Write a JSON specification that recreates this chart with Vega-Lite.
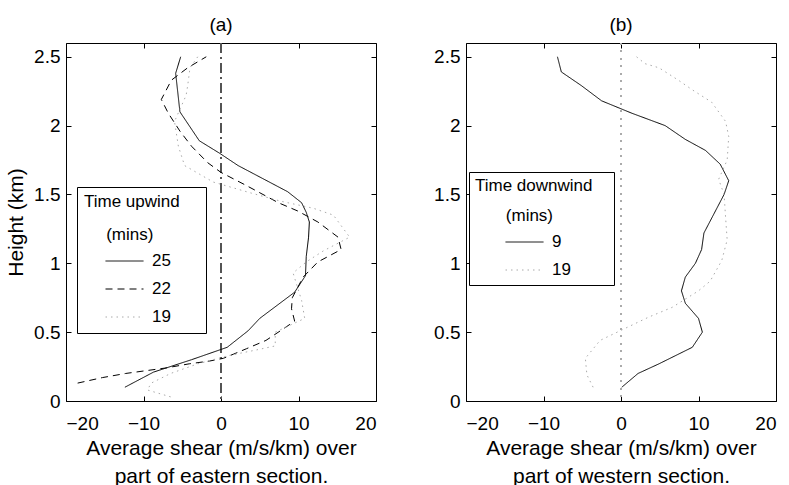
{
  "$schema": "https://vega.github.io/schema/vega-lite/v6.json",
  "background": "white",
  "padding": {"left": 5, "top": 15, "right": 5, "bottom": 5},
  "spacing": 90,
  "bounds": "flush",
  "resolve": {"scale": {"color": "independent", "strokeDash": "independent"}, "legend": {"color": "independent", "strokeDash": "independent"}},
  "config": {
    "font": "Liberation Sans",
    "view": {"stroke": "black", "strokeWidth": 1},
    "axis": {"grid": false, "domain": false, "labelFont": "Liberation Sans", "labelFontSize": 19, "labelColor": "black", "titleFont": "Liberation Sans", "titleFontSize": 21, "titleFontWeight": "normal", "titleColor": "black", "tickColor": "black", "tickSize": -5, "tickWidth": 1},
    "title": {"font": "Liberation Sans", "fontSize": 19, "fontWeight": "normal", "color": "black", "offset": 8},
    "legend": {"titleFont": "Liberation Sans", "labelFont": "Liberation Sans", "titleFontSize": 17, "labelFontSize": 17, "titleFontWeight": "normal", "titleColor": "black", "labelColor": "black", "strokeColor": "black", "fillColor": "white", "padding": 7, "symbolType": "stroke", "symbolSize": 1444, "symbolStrokeWidth": 1, "clipHeight": 18, "rowPadding": 10, "titlePadding": 8, "labelOffset": 8, "titleLimit": 300}
  },
  "datasets": {
    "a": [
      {"t": "25", "h": 0.10, "s": -12.4}, {"t": "25", "h": 0.21, "s": -8.7}, {"t": "25", "h": 0.30, "s": -3.8}, {"t": "25", "h": 0.39, "s": 0.8}, {"t": "25", "h": 0.51, "s": 3.5}, {"t": "25", "h": 0.60, "s": 5.0}, {"t": "25", "h": 0.79, "s": 9.5}, {"t": "25", "h": 0.91, "s": 10.9}, {"t": "25", "h": 1.05, "s": 11.0}, {"t": "25", "h": 1.19, "s": 11.3}, {"t": "25", "h": 1.30, "s": 11.4}, {"t": "25", "h": 1.37, "s": 11.0}, {"t": "25", "h": 1.44, "s": 10.4}, {"t": "25", "h": 1.52, "s": 8.6}, {"t": "25", "h": 1.71, "s": 2.2}, {"t": "25", "h": 1.80, "s": -0.2}, {"t": "25", "h": 1.89, "s": -2.8}, {"t": "25", "h": 2.10, "s": -5.3}, {"t": "25", "h": 2.38, "s": -5.85}, {"t": "25", "h": 2.50, "s": -5.2},
      {"t": "22", "h": 0.13, "s": -18.5}, {"t": "22", "h": 0.17, "s": -15.3}, {"t": "22", "h": 0.20, "s": -12.3}, {"t": "22", "h": 0.22, "s": -9.7}, {"t": "22", "h": 0.24, "s": -7.1}, {"t": "22", "h": 0.27, "s": -4.1}, {"t": "22", "h": 0.29, "s": -1.5}, {"t": "22", "h": 0.31, "s": 0.3}, {"t": "22", "h": 0.34, "s": 1.6}, {"t": "22", "h": 0.38, "s": 3.3}, {"t": "22", "h": 0.44, "s": 5.8}, {"t": "22", "h": 0.53, "s": 8.2}, {"t": "22", "h": 0.58, "s": 9.5}, {"t": "22", "h": 0.67, "s": 9.1}, {"t": "22", "h": 0.75, "s": 9.2}, {"t": "22", "h": 0.90, "s": 10.6}, {"t": "22", "h": 1.01, "s": 12.5}, {"t": "22", "h": 1.10, "s": 15.5}, {"t": "22", "h": 1.19, "s": 15.1}, {"t": "22", "h": 1.30, "s": 12.5}, {"t": "22", "h": 1.38, "s": 9.9}, {"t": "22", "h": 1.44, "s": 7.4}, {"t": "22", "h": 1.57, "s": 3.1}, {"t": "22", "h": 1.66, "s": 0.0}, {"t": "22", "h": 1.73, "s": -1.7}, {"t": "22", "h": 1.85, "s": -3.8}, {"t": "22", "h": 1.96, "s": -5.3}, {"t": "22", "h": 2.09, "s": -6.8}, {"t": "22", "h": 2.19, "s": -7.7}, {"t": "22", "h": 2.33, "s": -6.4}, {"t": "22", "h": 2.42, "s": -4.3}, {"t": "22", "h": 2.50, "s": -1.9},
      {"t": "19", "h": 0.03, "s": -6.5}, {"t": "19", "h": 0.08, "s": -9.5}, {"t": "19", "h": 0.13, "s": -9.0}, {"t": "19", "h": 0.20, "s": -6.5}, {"t": "19", "h": 0.27, "s": -3.0}, {"t": "19", "h": 0.33, "s": 1.0}, {"t": "19", "h": 0.37, "s": 4.5}, {"t": "19", "h": 0.40, "s": 7.0}, {"t": "19", "h": 0.50, "s": 7.0}, {"t": "19", "h": 0.60, "s": 10.8}, {"t": "19", "h": 0.73, "s": 10.4}, {"t": "19", "h": 0.93, "s": 9.3}, {"t": "19", "h": 1.01, "s": 11.0}, {"t": "19", "h": 1.09, "s": 13.2}, {"t": "19", "h": 1.19, "s": 16.6}, {"t": "19", "h": 1.35, "s": 14.5}, {"t": "19", "h": 1.40, "s": 11.9}, {"t": "19", "h": 1.45, "s": 7.8}, {"t": "19", "h": 1.51, "s": 3.9}, {"t": "19", "h": 1.59, "s": -1.0}, {"t": "19", "h": 1.71, "s": -4.7}, {"t": "19", "h": 1.85, "s": -5.5}, {"t": "19", "h": 2.03, "s": -6.0}, {"t": "19", "h": 2.22, "s": -4.5}, {"t": "19", "h": 2.29, "s": -4.3}, {"t": "19", "h": 2.42, "s": -4.0}, {"t": "19", "h": 2.50, "s": -3.0}
    ],
    "b": [
      {"t": "9", "h": 0.10, "s": 0.1}, {"t": "9", "h": 0.20, "s": 2.2}, {"t": "9", "h": 0.27, "s": 4.9}, {"t": "9", "h": 0.39, "s": 9.2}, {"t": "9", "h": 0.50, "s": 10.5}, {"t": "9", "h": 0.60, "s": 10.0}, {"t": "9", "h": 0.71, "s": 8.3}, {"t": "9", "h": 0.80, "s": 7.8}, {"t": "9", "h": 0.90, "s": 8.3}, {"t": "9", "h": 1.00, "s": 9.6}, {"t": "9", "h": 1.10, "s": 10.4}, {"t": "9", "h": 1.22, "s": 10.7}, {"t": "9", "h": 1.36, "s": 12.0}, {"t": "9", "h": 1.50, "s": 13.3}, {"t": "9", "h": 1.60, "s": 13.9}, {"t": "9", "h": 1.72, "s": 12.8}, {"t": "9", "h": 1.82, "s": 10.9}, {"t": "9", "h": 1.90, "s": 8.3}, {"t": "9", "h": 2.00, "s": 5.7}, {"t": "9", "h": 2.09, "s": 1.4}, {"t": "9", "h": 2.18, "s": -2.5}, {"t": "9", "h": 2.29, "s": -5.1}, {"t": "9", "h": 2.39, "s": -7.7}, {"t": "9", "h": 2.50, "s": -8.2},
      {"t": "19", "h": 0.10, "s": -3.6}, {"t": "19", "h": 0.19, "s": -4.4}, {"t": "19", "h": 0.31, "s": -4.6}, {"t": "19", "h": 0.44, "s": -2.7}, {"t": "19", "h": 0.47, "s": -1.6}, {"t": "19", "h": 0.54, "s": 1.0}, {"t": "19", "h": 0.61, "s": 3.6}, {"t": "19", "h": 0.68, "s": 6.6}, {"t": "19", "h": 0.80, "s": 10.0}, {"t": "19", "h": 0.87, "s": 11.5}, {"t": "19", "h": 1.02, "s": 13.0}, {"t": "19", "h": 1.17, "s": 13.7}, {"t": "19", "h": 1.33, "s": 13.5}, {"t": "19", "h": 1.50, "s": 13.3}, {"t": "19", "h": 1.61, "s": 12.6}, {"t": "19", "h": 1.75, "s": 13.7}, {"t": "19", "h": 1.92, "s": 13.9}, {"t": "19", "h": 2.03, "s": 13.5}, {"t": "19", "h": 2.17, "s": 11.7}, {"t": "19", "h": 2.26, "s": 9.2}, {"t": "19", "h": 2.33, "s": 7.4}, {"t": "19", "h": 2.42, "s": 4.9}, {"t": "19", "h": 2.45, "s": 3.1}, {"t": "19", "h": 2.50, "s": 2.0}
    ]
  },
  "hconcat": [
    {
      "width": 310, "height": 358,
      "title": "(a)",
      "data": {"name": "a"},
      "layer": [
        {"mark": {"type": "rule", "color": "#555555", "strokeWidth": 1, "strokeDash": [10, 4, 2, 4]},
         "encoding": {"x": {"datum": 0, "type": "quantitative", "scale": {"domain": [-20, 20]}, "axis": null}}},
        {"mark": {"type": "line", "strokeWidth": 1},
         "encoding": {
           "x": {"field": "s", "type": "quantitative", "scale": {"domain": [-20, 20]}, "axis": {"values": [-20, -10, 0, 10, 20], "format": "d", "labelPadding": 18, "title": ["Average shear (m/s/km) over", "part of eastern section."], "titleLineHeight": 28, "titlePadding": 4}},
           "y": {"field": "h", "type": "quantitative", "scale": {"domain": [0, 2.5]}, "axis": {"values": [0, 0.5, 1, 1.5, 2, 2.5], "format": "~r", "labelPadding": 11, "title": "Height (km)", "titlePadding": 7}},
           "order": {"field": "h", "type": "quantitative"},
           "color": {"field": "t", "type": "nominal", "title": ["Time upwind\u2009\u2009\u2800", "\u2800\u2009\u2009\u2009(mins)"], "scale": {"domain": ["25", "22", "19"], "range": ["black", "black", "#aaaaaa"]},
             "legend": {"orient": "none", "legendX": 11, "legendY": 144, "titleLineHeight": 33, "symbolOffset": 21}},
           "strokeDash": {"field": "t", "type": "nominal", "title": ["Time upwind\u2009\u2009\u2800", "\u2800\u2009\u2009\u2009(mins)"], "scale": {"domain": ["25", "22", "19"], "range": [[1, 0], [7, 5], [1.5, 4]]},
             "legend": {"orient": "none", "legendX": 11, "legendY": 144, "titleLineHeight": 33, "symbolOffset": 21}}
         }},
        {"mark": {"type": "point", "opacity": 0},
         "encoding": {
           "x": {"field": "s", "type": "quantitative", "axis": {"orient": "top", "labels": false, "title": null, "values": [-20, -10, 0, 10, 20]}},
           "y": {"field": "h", "type": "quantitative", "axis": {"orient": "right", "labels": false, "title": null, "values": [0, 0.5, 1, 1.5, 2, 2.5]}}
         }}
      ],
      "resolve": {"axis": {"x": "independent", "y": "independent"}}
    },
    {
      "width": 310, "height": 358,
      "title": "(b)",
      "data": {"name": "b"},
      "layer": [
        {"mark": {"type": "rule", "color": "#aaaaaa", "strokeWidth": 1, "strokeDash": [1.5, 6]},
         "encoding": {"x": {"datum": 0, "type": "quantitative", "scale": {"domain": [-20, 20]}, "axis": null}}},
        {"mark": {"type": "line", "strokeWidth": 1},
         "encoding": {
           "x": {"field": "s", "type": "quantitative", "scale": {"domain": [-20, 20]}, "axis": {"values": [-20, -10, 0, 10, 20], "format": "d", "labelPadding": 18, "title": ["Average shear (m/s/km) over", "part of western section."], "titleLineHeight": 28, "titlePadding": 4}},
           "y": {"field": "h", "type": "quantitative", "scale": {"domain": [0, 2.5]}, "axis": {"values": [0, 0.5, 1, 1.5, 2, 2.5], "format": "~r", "labelPadding": 11, "title": null}},
           "order": {"field": "h", "type": "quantitative"},
           "color": {"field": "t", "type": "nominal", "title": ["Time downwind\u2009\u2800", "\u2800\u2800\u2009\u2009(mins)"], "scale": {"domain": ["9", "19"], "range": ["black", "#aaaaaa"]},
             "legend": {"orient": "none", "legendX": 3, "legendY": 129, "titleLineHeight": 30, "symbolOffset": 30, "padding": 6}},
           "strokeDash": {"field": "t", "type": "nominal", "title": ["Time downwind\u2009\u2800", "\u2800\u2800\u2009\u2009(mins)"], "scale": {"domain": ["9", "19"], "range": [[1, 0], [1.5, 4]]},
             "legend": {"orient": "none", "legendX": 3, "legendY": 129, "titleLineHeight": 30, "symbolOffset": 30, "padding": 6}}
         }},
        {"mark": {"type": "point", "opacity": 0},
         "encoding": {
           "x": {"field": "s", "type": "quantitative", "axis": {"orient": "top", "labels": false, "title": null, "values": [-20, -10, 0, 10, 20]}},
           "y": {"field": "h", "type": "quantitative", "axis": {"orient": "right", "labels": false, "title": null, "values": [0, 0.5, 1, 1.5, 2, 2.5]}}
         }}
      ],
      "resolve": {"axis": {"x": "independent", "y": "independent"}}
    }
  ]
}
